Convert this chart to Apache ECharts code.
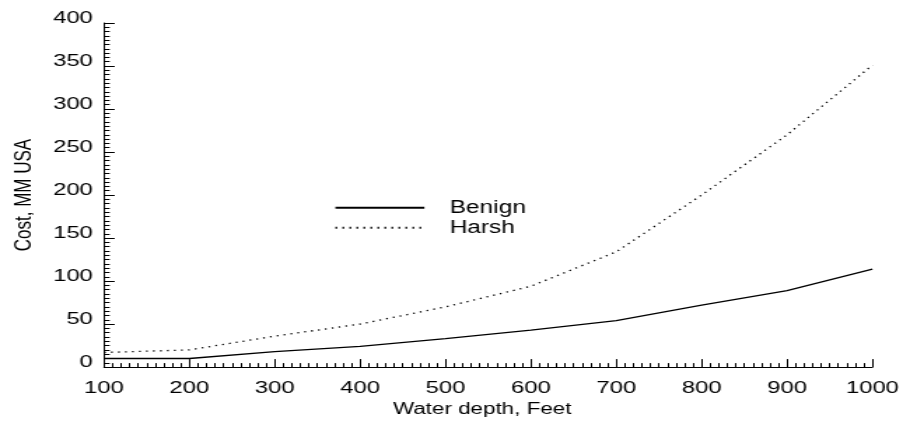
<!DOCTYPE html>
<html>
<head>
<meta charset="utf-8">
<script src="https://cdn.jsdelivr.net/npm/echarts@6/dist/echarts.min.js"></script>
<style>
  html, body { margin: 0; padding: 0; background: #fff; overflow: hidden; }
  #chart { height: 423px; transform-origin: 0 0; }
</style>
</head>
<body>
<div id="chart"></div>
<script>
// Data
const depths = [100, 200, 300, 400, 500, 600, 700, 800, 900, 1000];
const benign = [10, 10, 18, 24, 33, 43, 54, 72, 89, 114];
const harsh  = [17, 20, 36, 50, 70, 94, 134, 200, 270, 351];
const seriesNames = ['Benign', 'Harsh'];
const xAxisTitle = 'Water depth, Feet';
const yAxisTitle = 'Cost, MM USA';

// The reference is horizontally stretched; reproduce with a CSS scale
const S = 1.4;
const W = 904 / S;
const el = document.getElementById('chart');
el.style.width = W + 'px';
el.style.transform = 'scaleX(' + S + ')';

const FONT = "'Liberation Sans', Arial, Helvetica, sans-serif";
const chart = echarts.init(el, null, { renderer: 'canvas' });

chart.setOption({
  animation: false,
  backgroundColor: '#fff',
  grid: { left: 104 / S, right: W - 872 / S, top: 23, bottom: 55, containLabel: false },
  legend: {
    orient: 'vertical',
    left: 334 / S,
    top: 198.7,
    padding: 0,
    itemWidth: 89 / S,
    itemHeight: 14,
    itemGap: 2,
    data: seriesNames,
    itemStyle: { opacity: 0 },
    textStyle: { fontFamily: FONT, fontSize: 17.5, color: '#000', lineHeight: 14, padding: [0, 0, 0, 13] }
  },
  xAxis: {
    type: 'value',
    min: 100, max: 1000, interval: 100,
    name: xAxisTitle,
    nameLocation: 'middle',
    nameGap: 31,
    nameTextStyle: { fontFamily: FONT, fontSize: 16, color: '#000', padding: [0, 8.6, 0, 0] },
    axisLine: { show: true, onZero: false, lineStyle: { color: '#000', width: 1 } },
    axisTick: { show: true, inside: true, length: 8, lineStyle: { color: '#000', width: 1 } },
    minorTick: { show: true, splitNumber: 10, length: 4, lineStyle: { color: '#000', width: 1 } },
    axisLabel: { fontFamily: FONT, fontSize: 17, color: '#000', margin: 13, formatter: v => String(v) },
    splitLine: { show: false }
  },
  yAxis: {
    type: 'value',
    min: 0, max: 400, interval: 50,
    name: yAxisTitle,
    nameLocation: 'middle',
    nameGap: 48.5,
    nameRotate: 90,
    nameTextStyle: { fontFamily: FONT, fontSize: 17, color: '#000' },
    axisLine: { show: true, onZero: false, lineStyle: { color: '#000', width: 1 } },
    axisTick: { show: true, inside: true, length: 10.7 / S, lineStyle: { color: '#000', width: 1 } },
    minorTick: { show: true, splitNumber: 10, length: 5.7 / S, lineStyle: { color: '#000', width: 1 } },
    axisLabel: { fontFamily: FONT, fontSize: 17, color: '#000', margin: 8, verticalAlign: 'bottom', lineHeight: 9, formatter: v => String(v) },
    splitLine: { show: false }
  },
  series: [
    {
      name: seriesNames[0],
      type: 'line',
      data: depths.map((d, i) => [d, benign[i]]),
      symbol: 'none',
      lineStyle: { color: '#000', width: 1.3, type: 'solid' },
      itemStyle: { color: '#000' }
    },
    {
      name: seriesNames[1],
      type: 'line',
      data: depths.map((d, i) => [d, harsh[i]]),
      symbol: 'none',
      lineStyle: { color: '#000', width: 1.3, type: [1.3, 3.7] },
      itemStyle: { color: '#000' }
    }
  ]
});
</script>
</body>
</html>
